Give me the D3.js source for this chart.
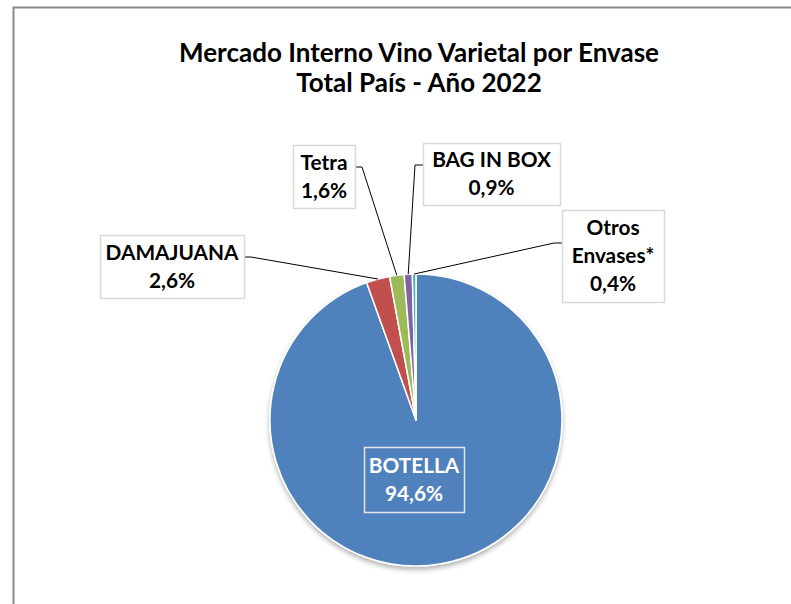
<!DOCTYPE html>
<html>
<head>
<meta charset="utf-8">
<script src="https://cdn.jsdelivr.net/npm/d3@7"></script>
<style>
  body { margin: 0; background: #fff; }
  svg { display: block; }
  text { font-family: Lato, "Open Sans", sans-serif; font-weight: bold; }
</style>
</head>
<body>
<div id="chart"></div>
<script>
// data
const categories = ["BOTELLA", "DAMAJUANA", "Tetra", "BAG IN BOX", "Otros Envases*"];
const shares = [94.6, 2.6, 1.6, 0.9, 0.4];
const shareLabels = ["94,6%", "2,6%", "1,6%", "0,9%", "0,4%"];
const categoryLines = [["BOTELLA"], ["DAMAJUANA"], ["Tetra"], ["BAG IN BOX"], ["Otros", "Envases*"]];
const colors = ["#4F81BD", "#C0504D", "#9BBB59", "#8064A2", "#4BACC6"];
const titleLines = ["Mercado Interno Vino Varietal por Envase", "Total País - Año 2022"];

// layout
const W = 791, H = 604;
const cx = 416, cy = 420, radius = 146;
const labelBoxes = [
  {x: 364, y: 447, w: 100, h: 65, inside: true},
  {x: 100, y: 235, w: 144, h: 63},
  {x: 293, y: 145, w: 62, h: 63},
  {x: 423, y: 143, w: 137, h: 62},
  {x: 562, y: 210, w: 102, h: 92}
];
const lineH = 28;

var svg = d3.select("#chart").append("svg")
  .attr("width", W)
  .attr("height", H);

var defs = svg.append("defs");
var shadow = defs.append("filter")
  .attr("id", "shadow")
  .attr("x", "-10%").attr("y", "-10%")
  .attr("width", "120%").attr("height", "125%");
shadow.append("feDropShadow")
  .attr("dx", 0).attr("dy", 3)
  .attr("stdDeviation", 2.5)
  .attr("flood-color", "#000")
  .attr("flood-opacity", 0.3);

// chart frame (right and bottom edges run off the picture)
svg.append("rect")
  .attr("x", 13.5).attr("y", 7.5)
  .attr("width", 900).attr("height", 800)
  .attr("fill", "#fff")
  .attr("stroke", "#898989")
  .attr("stroke-width", 2);

svg.append("g").selectAll("text")
  .data(titleLines)
  .enter().append("text")
  .attr("x", 419)
  .attr("y", function(d, i) { return 62 + i * 30; })
  .attr("text-anchor", "middle")
  .attr("font-size", 26)
  .attr("fill", "#000")
  .text(function(d) { return d; });

var data = categories.map(function(c, i) {
  return {name: c, value: shares[i], label: shareLabels[i], lines: categoryLines[i], color: colors[i], box: labelBoxes[i]};
});

var pie = d3.pie()
  .sort(null)
  .value(function(d) { return d.value; });

var arc = d3.arc().innerRadius(0).outerRadius(radius);
var edge = d3.arc().innerRadius(radius).outerRadius(radius);

var arcs = pie(data);

var g = svg.append("g")
  .attr("transform", "translate(" + cx + "," + cy + ")");

g.append("g")
  .attr("filter", "url(#shadow)")
  .selectAll("path")
  .data(arcs)
  .enter().append("path")
  .attr("d", arc)
  .attr("fill", function(d) { return d.data.color; })
  .attr("stroke", "#fff")
  .attr("stroke-width", 1.5)
  .attr("stroke-linejoin", "round");

// leader lines
svg.append("g").selectAll("path")
  .data(arcs.filter(function(d) { return !d.data.box.inside; }))
  .enter().append("path")
  .attr("fill", "none")
  .attr("stroke", "#000")
  .attr("stroke-width", 1)
  .attr("d", function(d) {
    var p = edge.centroid(d);
    var px = cx + p[0], py = cy + p[1];
    var b = d.data.box;
    var right = px > b.x + b.w;
    var bx = right ? b.x + b.w : b.x;
    var by = b.y + Math.round(b.h * 0.355);
    var ex = right ? bx + 7 : bx - 8;
    return "M" + bx + "," + by + "L" + ex + "," + by + "L" + px + "," + py;
  });

// label boxes
var lab = svg.append("g").selectAll("g")
  .data(arcs)
  .enter().append("g");

lab.append("rect")
  .attr("x", function(d) { return d.data.box.x + 0.5; })
  .attr("y", function(d) { return d.data.box.y + 0.5; })
  .attr("width", function(d) { return d.data.box.w; })
  .attr("height", function(d) { return d.data.box.h; })
  .attr("fill", function(d) { return d.data.box.inside ? "none" : "#fff"; })
  .attr("stroke", function(d) { return d.data.box.inside ? "#e6e6e6" : "#d9d9d9"; })
  .attr("stroke-width", 1.5);

lab.append("text")
  .attr("text-anchor", "middle")
  .attr("font-size", 20.8)
  .attr("fill", function(d) { return d.data.box.inside ? "#fff" : "#000"; })
  .each(function(d) {
    var lines = d.data.lines.concat([d.data.label]);
    var b = d.data.box;
    var y0 = b.y + b.h / 2 - (lines.length - 1) * lineH / 2 + 7;
    d3.select(this).selectAll("tspan")
      .data(lines)
      .enter().append("tspan")
      .attr("x", b.x + b.w / 2)
      .attr("y", function(t, i) { return y0 + i * lineH; })
      .text(function(t) { return t; });
  });
</script>
</body>
</html>
